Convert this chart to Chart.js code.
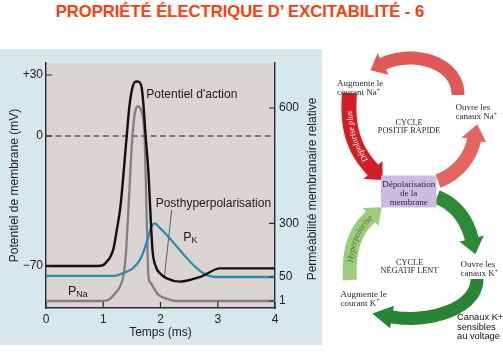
<!DOCTYPE html>
<html><head><meta charset="utf-8">
<script src="https://cdn.jsdelivr.net/npm/chart.js@4.4.1/dist/chart.umd.min.js"></script>
<style>
html,body{margin:0;padding:0;width:503px;height:356px;overflow:hidden;background:#fff;}
#title{position:absolute;left:0;top:2px;width:480px;text-align:center;line-height:20px;font:bold 16.6px "Liberation Sans",Arial,sans-serif;color:#ff3d0d;white-space:nowrap;}
#panel{position:absolute;left:0;top:49px;width:322px;height:296px;background:#d6e7ee;}
#wrap{position:absolute;left:0;top:49px;width:322px;height:296px;}
#diag{position:absolute;left:0;top:0;}
</style></head><body>
<div id="title">PROPRIÉTÉ ÉLECTRIQUE D’ EXCITABILITÉ - 6</div>
<div id="panel"></div>
<div id="wrap"><canvas id="c" width="322" height="296"></canvas></div>
<svg id="diag" width="503" height="356" xmlns="http://www.w3.org/2000/svg"></svg>
<script>
// ---------------- data ----------------
const timeTicks = [0, 1, 2, 3, 4];
const mvTicks = [-70, 0, 30];
const mvTickLabels = ['\u221270', '0', '+30'];
const permTicks = [1, 50, 300, 600];
const permTickLabels = ['1', '50', '300', '600'];

// Potentiel d'action (mV)
const apTime = [0, 0.9, 1.0, 1.06, 1.12, 1.18, 1.24, 1.30, 1.41, 1.455, 1.51, 1.55, 1.59, 1.63, 1.67, 1.70, 1.74, 1.79, 1.83, 1.86, 1.92, 1.99, 2.1, 2.34, 2.7, 3.04, 4];
const apMv   = [-70, -70, -69.5, -67.7, -65.3, -60.5, -50, -38, 0, 14.2, 23.9, 26.5, 26.8, 26.5, 24, 16, 0, -20, -45.3, -61.4, -70.5, -73.9, -76.5, -78.4, -75.8, -71.3, -71.3];

// P_K (perméabilité relative)
const pkTime = [0, 1.2, 1.29, 1.41, 1.52, 1.64, 1.72, 1.79, 1.84, 1.9, 1.96, 2.95, 4];
const pkVal  = [55, 55, 62, 75, 91, 130, 180, 239, 282, 300, 286, 50, 50];

// P_Na (perméabilité relative)
const pnaTime = [0, 1.0, 1.1, 1.18, 1.29, 1.36, 1.40, 1.43, 1.51, 1.57, 1.61, 1.65, 1.72, 1.76, 1.79, 1.83, 1.87, 1.95, 2.1, 2.25, 4];
const pnaVal  = [1, 1, 4, 13, 30, 67, 175, 309, 527, 598, 604, 598, 527, 309, 50, 38, 30, 15, 6, 1, 1];

// 0 mV reference line and the "Posthyperpolarisation" pointer
const zeroTime = [0, 4];
const zeroMv = [0, 0];
const pointerTime = [2.196, 2.066];
const pointerMv = [-39.8, -76.3];

// ---------------- non-linear axes (as drawn in the textbook figure) ----------------
const WARP = {
  y:  { values: [-92.6, -70, 0, 30, 35.9],        frac: [0, 0.17143, 0.70204, 0.95102, 1] },
  y2: { values: [-13.3, 1, 50, 300, 600, 717],    frac: [0, 0.02857, 0.12653, 0.34571, 0.81633, 1] }
};
function interp(xs, fs, v) {
  let i = 0;
  if (v <= xs[0]) i = 0;
  else if (v >= xs[xs.length - 1]) i = xs.length - 2;
  else { while (v > xs[i + 1]) i++; }
  return fs[i] + (v - xs[i]) * (fs[i + 1] - fs[i]) / (xs[i + 1] - xs[i]);
}
class WarpScale extends Chart.LinearScale {
  getPixelForValue(value) {
    if (value === null || value === undefined || isNaN(value)) return NaN;
    const k = WARP[this.id];
    return this.getPixelForDecimal(interp(k.values, k.frac, value));
  }
  getValueForPixel(pixel) {
    const k = WARP[this.id];
    return interp(k.frac, k.values, this.getDecimalForPixel(pixel));
  }
}
WarpScale.id = 'warp';
WarpScale.defaults = Chart.LinearScale.defaults;
Chart.register(WarpScale);

const FAMILY = '"Liberation Sans", Arial, Helvetica, sans-serif';
Chart.defaults.font.family = FAMILY;
Chart.defaults.color = '#222';
const AXIS = '#2a2a2a';

const pts = (xs, ys) => xs.map((x, i) => ({ x: x, y: ys[i] }));

const annotations = [
  { text: "Potentiel d'action", x: 1.752, y: 20.5, size: 12 },
  { text: 'Posthyperpolarisation', x: 1.916, y: -36.6, size: 12 }
];

const plotBg = {
  id: 'plotBg',
  beforeDraw(chart) {
    const { ctx, chartArea: a } = chart;
    ctx.save();
    ctx.fillStyle = '#dad4d2';
    ctx.fillRect(a.left, a.top, a.right - a.left, a.bottom - a.top);
    ctx.restore();
  },
  afterDatasetsDraw(chart) {
    const { ctx, chartArea: a, scales } = chart;
    ctx.save();
    // inward tick marks
    ctx.strokeStyle = AXIS; ctx.lineWidth = 1.2;
    ctx.beginPath();
    scales.x.ticks.forEach((t, i) => { const p = scales.x.getPixelForTick(i); ctx.moveTo(p, a.bottom); ctx.lineTo(p, a.bottom - 6); });
    scales.y.ticks.forEach((t, i) => { const p = scales.y.getPixelForTick(i); ctx.moveTo(a.left, p); ctx.lineTo(a.left + 6, p); });
    scales.y2.ticks.forEach((t, i) => { const p = scales.y2.getPixelForTick(i); ctx.moveTo(a.right - 6, p); ctx.lineTo(a.right, p); });
    ctx.stroke();
    // annotations
    ctx.fillStyle = '#1a1a1a';
    ctx.textBaseline = 'middle'; ctx.textAlign = 'left';
    annotations.forEach(an => {
      ctx.font = an.size + 'px ' + FAMILY;
      ctx.fillText(an.text, scales.x.getPixelForValue(an.x), scales.y.getPixelForValue(an.y));
    });
    // P_K
    let px = scales.x.getPixelForValue(2.398), py = scales.y.getPixelForValue(-54.7);
    ctx.font = '12.5px ' + FAMILY; ctx.fillText('P', px, py);
    let w = ctx.measureText('P').width;
    ctx.font = '9px ' + FAMILY; ctx.fillText('K', px + w, py + 2.5);
    // P_Na
    px = scales.x.getPixelForValue(0.384); py = scales.y.getPixelForValue(-83.5);
    ctx.font = '12.5px ' + FAMILY; ctx.fillText('P', px, py);
    w = ctx.measureText('P').width;
    ctx.font = '9px ' + FAMILY; ctx.fillText('Na', px + w, py + 3);
    // right axis title (reads bottom to top)
    ctx.translate(312.5, 140);
    ctx.rotate(-Math.PI / 2);
    ctx.textAlign = 'center';
    ctx.font = '12px ' + FAMILY;
    ctx.fillStyle = '#222';
    ctx.fillText('Perméabilité membranaire relative', 0, 0);
    ctx.restore();
  }
};

new Chart(document.getElementById('c'), {
  type: 'line',
  data: {
    datasets: [
      { label: "Potentiel d'action", data: pts(apTime, apMv), yAxisID: 'y', borderColor: '#111', borderWidth: 2.4, pointRadius: 0, cubicInterpolationMode: 'monotone', order: 0 },
      { label: 'PK', data: pts(pkTime, pkVal), yAxisID: 'y2', borderColor: '#2a8dab', borderWidth: 2.3, pointRadius: 0, cubicInterpolationMode: 'monotone', order: 1 },
      { label: 'PNa', data: pts(pnaTime, pnaVal), yAxisID: 'y2', borderColor: '#808080', borderWidth: 2.3, pointRadius: 0, cubicInterpolationMode: 'monotone', order: 2 },
      { label: 'zero', data: pts(zeroTime, zeroMv), yAxisID: 'y', borderColor: '#5a5a5a', borderWidth: 1.3, borderDash: [6, 3.5], pointRadius: 0, order: 3 },
      { label: 'pointer', data: pts(pointerTime, pointerMv), yAxisID: 'y', borderColor: '#444', borderWidth: 0.8, pointRadius: 0, order: 4 }
    ]
  },
  options: {
    responsive: false,
    animation: false,
    events: [],
    layout: { padding: { top: 14, left: 0, right: 0, bottom: 0 } },
    plugins: { legend: { display: false }, tooltip: { enabled: false } },
    scales: {
      x: {
        type: 'linear', position: 'bottom', min: 0, max: 4,
        afterBuildTicks: s => { s.ticks = timeTicks.map(v => ({ value: v })); },
        afterFit: s => { s.height = 37; },
        grid: { display: false, drawTicks: false },
        border: { display: true, color: AXIS, width: 1.4 },
        ticks: { padding: 4, maxRotation: 0, autoSkip: false, font: { size: 12 }, color: '#222', callback: (v, i) => String(timeTicks[i]) },
        title: { display: true, text: 'Temps (ms)', font: { size: 12 }, color: '#222', padding: { top: 0, bottom: 5 } }
      },
      y: {
        type: 'warp', position: 'left', min: -92.6, max: 35.9,
        afterBuildTicks: s => { s.ticks = mvTicks.map(v => ({ value: v })); },
        afterFit: s => { s.width = 46; },
        grid: { display: false, drawTicks: false },
        border: { display: true, color: AXIS, width: 1.4 },
        ticks: { padding: 3, autoSkip: false, font: { size: 12 }, color: '#222', callback: (v, i) => mvTickLabels[i] },
        title: { display: true, text: 'Potentiel de membrane (mV)', font: { size: 12 }, color: '#222', padding: { top: 7, bottom: 0 } }
      },
      y2: {
        type: 'warp', position: 'right', min: -13.3, max: 717,
        afterBuildTicks: s => { s.ticks = permTicks.map(v => ({ value: v })); },
        afterFit: s => { s.width = 47; },
        grid: { display: false, drawTicks: false },
        border: { display: true, color: AXIS, width: 1.4 },
        ticks: { padding: 4, autoSkip: false, font: { size: 12 }, color: '#222', callback: (v, i) => permTickLabels[i] }
      }
    }
  },
  plugins: [plotBg]
});

// ---------------- feedback-cycle diagram ----------------
const NS = 'http://www.w3.org/2000/svg';
const svg = document.getElementById('diag');
function el(tag, attrs, parent, text) {
  const e = document.createElementNS(NS, tag);
  for (const k in attrs) e.setAttribute(k, attrs[k]);
  if (text !== undefined) e.textContent = text;
  (parent || svg).appendChild(e);
  return e;
}
function bez(p, t) {
  const u = 1 - t;
  return [u*u*u*p[0][0] + 3*u*u*t*p[1][0] + 3*u*t*t*p[2][0] + t*t*t*p[3][0],
          u*u*u*p[0][1] + 3*u*u*t*p[1][1] + 3*u*t*t*p[2][1] + t*t*t*p[3][1]];
}
function bezD(p, t) {
  const u = 1 - t;
  return [3*u*u*(p[1][0]-p[0][0]) + 6*u*t*(p[2][0]-p[1][0]) + 3*t*t*(p[3][0]-p[2][0]),
          3*u*u*(p[1][1]-p[0][1]) + 6*u*t*(p[2][1]-p[1][1]) + 3*t*t*(p[3][1]-p[2][1])];
}
function arrow(a) {
  const N = 32, outer = [], inner = [];
  for (let i = 0; i <= N; i++) {
    const t = i / N, q = bez(a.p, t), d = bezD(a.p, t), L = Math.hypot(d[0], d[1]);
    const nx = -d[1] / L, ny = d[0] / L;
    outer.push([q[0] + nx * a.w / 2, q[1] + ny * a.w / 2]);
    inner.push([q[0] - nx * a.w / 2, q[1] - ny * a.w / 2]);
  }
  const e = a.p[3], d = bezD(a.p, 1), L = Math.hypot(d[0], d[1]);
  const ux = d[0] / L, uy = d[1] / L, nx = -uy, ny = ux;
  const tip = [e[0] + ux * a.hl, e[1] + uy * a.hl];
  const h1 = [e[0] + nx * a.hw, e[1] + ny * a.hw], h2 = [e[0] - nx * a.hw, e[1] - ny * a.hw];
  const f = q => q[0].toFixed(2) + ' ' + q[1].toFixed(2);
  let s = 'M' + f(outer[0]);
  outer.forEach(q => s += ' L' + f(q));
  s += ' L' + f(h1) + ' L' + f(tip) + ' L' + f(h2);
  for (let i = N; i >= 0; i--) s += ' L' + f(inner[i]);
  s += ' Z';
  el('path', { d: s, fill: a.fill });
  return tip;
}
const arrows = {
  topRed:    { p: [[458, 95], [458, 60], [409.7, 50.4], [383, 64]],   w: 13, hl: 14, hw: 12, fill: '#e15955' },
  leftRed:   { p: [[349.5, 93], [347, 125], [352.3, 148.4], [373, 170]], w: 15, hl: 14, hw: 13, fill: '#d61c24' },
  rightRed:  { p: [[438, 181], [455, 175], [470, 159.6], [474, 140]], w: 14, hl: 16, hw: 12.5, fill: '#e6645f' },
  greenDown: { p: [[437, 197], [457, 205], [467.3, 221.1], [471.6, 238.6]], w: 14, hl: 16, hw: 12.5, fill: '#2d8a36' },
  greenBot:  { p: [[477, 279], [477, 310], [426.5, 323], [392, 317]], w: 13, hl: 20, hw: 11.5, fill: '#2a8533' },
  lightGreen:{ p: [[350, 280], [348, 250], [355.4, 230.1], [370.5, 217]], w: 14, hl: 15, hw: 12, fill: '#9bcb7c' }
};
const defs = el('defs', {});
Object.keys(arrows).forEach(k => arrow(arrows[k]));

function pathD(p, rev) {
  const q = rev ? [p[3], p[2], p[1], p[0]] : p;
  return 'M' + q[0].join(' ') + ' C' + q[1].join(' ') + ' ' + q[2].join(' ') + ' ' + q[3].join(' ');
}
el('path', { id: 'pDep', d: pathD(arrows.leftRed.p, true), fill: 'none' }, defs);
el('path', { id: 'pHyp', d: pathD(arrows.lightGreen.p, false) + ' L381.8 207.2', fill: 'none' }, defs);
const t1 = el('text', { 'font-family': '"Liberation Serif",Times,serif', 'font-size': 8.5, 'font-style': 'italic', fill: '#fff', dy: 3 });
el('textPath', { href: '#pDep', startOffset: '46%', 'text-anchor': 'middle' }, t1, 'Dépolarise plus');
const t2 = el('text', { 'font-family': '"Liberation Serif",Times,serif', 'font-size': 9, 'font-style': 'italic', fill: '#3f7d36', dy: 3 });
el('textPath', { href: '#pHyp', startOffset: '52%', 'text-anchor': 'middle' }, t2, 'Hyperpolarise');

// central box
el('rect', { x: 381, y: 175.5, width: 55.5, height: 32, fill: '#cbbde0' });

const SERIF = '"Liberation Serif",Times,serif';
function label(lines, x, y0, opts) {
  lines.forEach((ln, i) => {
    const t = el('text', Object.assign({ x: x, y: y0[i], 'font-family': SERIF, 'font-size': 9, fill: '#2b2b2b' }, opts || {}));
    if (typeof ln === 'string') { t.textContent = ln; }
    else {
      el('tspan', {}, t, ln[0]);
      el('tspan', { 'font-size': 6, dy: -3.5 }, t, ln[1]);
    }
  });
}
label(['Augmente le', ['courant Na', '+']], 337, [85.5, 95]);
label(['Ouvre les', ['canaux Na', '+']], 455.5, [110, 119]);
label(['CYCLE', 'POSITIF RAPIDE'], 409, [124.5, 133.3], { 'text-anchor': 'middle', 'font-size': 8.3 });
label(['Dépolarisation', 'de la', 'membrane'], 408.7, [187, 196.3, 205], { 'text-anchor': 'middle', fill: '#26264a' });
label(['CYCLE', 'NÉGATIF LENT'], 409.5, [265, 273.4], { 'text-anchor': 'middle', 'font-size': 8.3 });
label(['Ouvre les', ['canaux K', '+']], 460.5, [266.5, 276]);
label(['Augmente le', ['courant K', '+']], 340.5, [296.5, 305.5]);
const sans = { 'font-family': FAMILY, 'font-size': 9.3, fill: '#111' };
el('text', Object.assign({ x: 457, y: 319.5 }, sans), svg, 'Canaux K+');
el('text', Object.assign({ x: 457, y: 329.5 }, sans), svg, 'sensibles');
el('text', Object.assign({ x: 457, y: 339 }, sans), svg, 'au voltage');
</script>
</body></html>
